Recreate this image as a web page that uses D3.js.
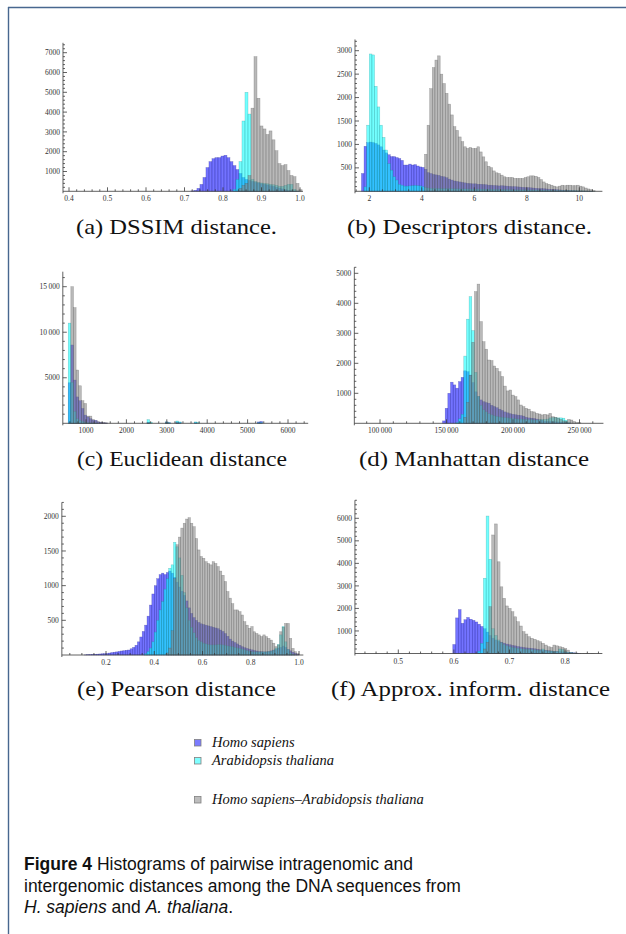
<!DOCTYPE html>
<html><head><meta charset="utf-8">
<script src="https://cdn.jsdelivr.net/npm/d3@7"></script>
<style>body{margin:0;background:#fff}svg{display:block}</style>
</head><body>
<svg id="chart" width="626" height="934"></svg>
<script>
// ---------------- DATA ----------------
// (a) DSSIM distance
const dssimBinStart = 0.7167, dssimBinWidth = 0.0078;
const dssimHomo  = [20,50,150,350,700,1200,1500,1650,1700,1700,1780,1820,1700,1500,1300,1100,900,700,600,550,500,450,420,380,350,320,280,250,200,160,120,80,50,30,15,5,0];
const dssimArab  = [0,0,0,0,0,0,0,0,0,0,0,0,0,0,100,600,1500,3550,5000,3900,600,500,450,420,400,380,350,330,300,250,250,300,350,350,100,20,0];
const dssimInter = [0,0,0,0,0,0,0,0,0,0,0,0,0,0,0,0,150,300,400,800,4200,6800,4700,3300,3150,2870,3050,2600,2050,1400,1300,1350,1050,800,740,400,80];
const dssimXTicks = [0.4,0.5,0.6,0.7,0.8,0.9,1.0];
const dssimYTicks = [1000,2000,3000,4000,5000,6000,7000];

// (b) Descriptors distance
const descBinStart = 1.7, descBinWidth = 0.1;
const descHomo = [380,960,1040,1050,1040,1020,990,950,880,820,
  780,740,740,720,700,660,560,560,580,560,
  570,540,520,510,470,400,380,360,350,340,
  320,310,290,260,240,220,210,200,190,180,
  170,165,160,160,150,150,145,140,130,130,
  125,120,115,120,115,110,105,100,100,95,
  90,85,80,80,75,70,65,60,60,55,
  50,45,42,40,35,30,25,20,20,15,
  12,10,8,6,5,4,3,2,0];
const descArab = [0,95,1410,2930,2910,2240,1800,1410,1150,880,
  590,450,310,240,150,130,110,110,115,120,
  125,120,115,100,80,70,65,60,60,58,
  57,56,55,55,54,53,52,51,50,50,
  48,47,46,45,45,44,43,42,41,40,
  39,38,37,36,35,34,33,32,31,30,
  30,30,30,29,29,28,28,27,26,25,
  24,23,22,21,20,19,18,17,16,15,
  14,13,12,11,10,8,6,4,2];
const descInter = [0,0,0,0,0,0,0,0,0,0,
  0,0,0,0,0,0,0,0,0,0,
  0,0,0,0,790,1410,2190,2640,2800,2890,
  2500,2300,2090,1860,1630,1380,1300,1160,1060,950,
  915,935,915,915,950,840,735,630,535,505,
  435,395,380,345,310,295,295,295,275,275,
  275,275,295,310,330,330,320,295,250,200,
  165,150,130,110,95,110,130,120,130,130,
  120,120,130,110,95,70,50,35,15];
const descXTicks = [2,4,6,8,10];
const descYTicks = [500,1000,1500,2000,2500,3000];

// (c) Euclidean distance
const euclidBinStart = 560, euclidBinWidth = 65;
const euclidHomo = [4450,8600,4750,2900,2480,1630,900,700,500,350,
  300,150,100,50,30,0,0,0,0,0,
  0,0,0,0,0,0,0,0,0,0,
  100,0,0,0,0,0,0,150,60,0,
  0,150,100,0,0,0,0,0,80,0,
  0,0,0,0,0,0,0,0,0,0,
  0,0,0,0,0,0,0,0,0,0,
  0,0,150,200,0];
const euclidArab = [11000,4500,1300,500,300,200,100,60,40,30,
  20,0,0,0,0,0,0,0,0,0,
  0,0,0,0,0,0,0,0,0,0,
  400,120,0,0,0,0,0,150,60,0,
  0,250,150,0,0,0,0,0,150,80,
  0,0,0,0,0,0,0,0,0,0,
  0,0,0,0,0,0,0,0,0,0,
  0,0,60,80,0];
const euclidInter = [0,15000,12700,5850,4120,2480,2180,790,790,410,
  280,170,130,80,50,0,0,0,0,0,
  0,0,0,0,0,0,0,0,0,0,
  60,0,0,0,0,0,0,100,0,0,
  0,80,0,0,0,0,0,0,0,0,
  0,0,0,0,0,0,0,0,0,0,
  0,0,0,0,0,0,0,0,0,0,
  0,0,0,0,0];
const euclidXTicks = [1000,2000,3000,4000,5000,6000];
const euclidYTicks = [5000,10000,15000];

// (d) Manhattan distance
const manhBinStart = 147000, manhBinWidth = 2000;
const manhHomo = [80,500,1000,1370,1280,1170,1390,1530,1750,1720,
  1610,1360,1050,890,780,720,690,670,600,560,
  520,470,430,380,350,320,300,285,270,260,
  240,200,180,170,160,140,115,100,70,65,
  60,55,50,45,40,30,20,10,0,0,
  0,0,0];
const manhArab = [0,0,0,0,0,30,150,300,2240,3470,
  4220,3090,1700,900,600,450,380,320,280,250,
  230,210,200,190,180,170,160,150,140,140,
  130,130,120,120,110,110,120,130,130,140,
  180,190,190,180,180,170,100,30,0,0,
  0,0,0];
const manhInter = [0,0,0,0,0,0,0,0,200,700,
  1600,2700,4390,4640,3390,2720,2470,2110,2090,1910,
  1830,1720,1560,1240,1080,1110,940,890,780,610,
  555,500,470,390,380,330,310,280,300,280,
  330,220,200,170,130,80,55,130,110,60,
  30,20,0];
const manhXTicks = [100000,150000,200000,250000];
const manhYTicks = [1000,2000,3000,4000,5000];

// (e) Pearson distance
const pearBinStart = 0.1, pearBinWidth = 0.01;
const pearHomo = [0,2,5,5,8,10,12,15,18,20,
  22,28,35,40,45,52,58,62,68,72,
  90,110,140,190,260,340,430,560,720,880,
  1000,1100,1160,1180,1160,1190,1210,1180,1120,1050,
  980,920,860,780,680,600,540,500,470,450,
  440,430,420,410,400,390,380,360,340,310,
  270,230,200,180,160,140,120,105,95,85,
  75,65,58,50,48,45,45,50,60,70,
  80,100,110,130,110,80,60,40,25,10];
const pearArab = [0,0,0,0,0,0,0,0,0,0,
  0,0,0,0,0,0,0,0,0,0,
  0,0,0,0,0,0,20,50,100,190,
  330,500,650,770,950,1100,1250,1300,1625,1560,
  1400,1150,900,680,500,400,320,250,210,190,
  170,160,150,145,145,145,150,150,145,140,
  130,125,120,110,100,95,85,75,65,55,
  48,45,45,45,45,45,45,50,55,70,
  100,150,290,410,190,80,30,10,0,0];
const pearInter = [0,0,0,0,0,0,0,0,0,0,
  0,0,0,0,0,0,0,0,0,0,
  0,0,0,0,0,0,0,0,0,0,
  0,0,0,0,0,30,100,350,1100,1590,
  1700,1830,1900,1960,1980,1900,1850,1680,1515,1420,
  1395,1345,1320,1300,1345,1320,1275,1210,1150,1060,
  915,820,740,650,650,625,577,480,430,385,
  410,335,310,290,265,290,265,240,215,170,
  120,145,335,400,455,455,240,95,48,20];
const pearXTicks = [0.2,0.4,0.6,0.8,1.0];
const pearYTicks = [500,1000,1500,2000];

// (f) Approx. inform. distance
const approxBinStart = 0.598, approxBinWidth = 0.005;
const approxHomo = [400,1580,1950,1340,1500,1600,1520,1470,1400,1300,
  1200,1100,950,800,680,600,540,500,460,420,
  390,360,340,310,290,270,250,240,230,210,
  190,170,155,140,125,110,100,90,80,70,
  60,50,40,30,20,10,0,0,0,0,
  0,0,0];
const approxArab = [0,0,0,0,0,0,0,0,0,100,
  450,3340,6100,4180,1100,800,600,480,400,340,
  300,270,250,230,210,200,190,180,170,160,
  150,140,200,130,110,110,100,90,200,180,
  80,60,40,20,10,0,0,0,0,0,
  0,0,0];
const approxInter = [0,0,0,0,0,0,0,0,0,0,
  0,200,500,2080,5260,5750,4070,2960,2450,2110,
  2000,1855,1630,1410,1220,970,865,745,675,630,
  570,525,450,375,300,270,375,340,300,270,
  225,150,40,15,10,5,5,3,3,2,
  2,0,0];
const approxXTicks = [0.5,0.6,0.7,0.8];
const approxYTicks = [1000,2000,3000,4000,5000,6000];

const seriesNames = ["Homo sapiens", "Arabidopsis thaliana", "Homo sapiens\u2013Arabidopsis thaliana"];
const captionTexts = ["(a) DSSIM distance.", "(b) Descriptors distance.", "(c) Euclidean distance",
                      "(d) Manhattan distance", "(e) Pearson distance", "(f) Approx. inform. distance"];

// ---------------- STYLE / LAYOUT ----------------
const seriesColors = ["#0000ff", "#00ffff", "#808080"];
const seriesEdges  = ["#20208a", "#208a8a", "#505050"];
const swatchColors = ["#7b7bff", "#80ffff", "#bdbdbd"];

const panels = [
  {series:[dssimHomo,dssimArab,dssimInter], start:dssimBinStart, bw:dssimBinWidth,
   xDom:[0.4,1.0], xRng:[69,300], xExt:[0.3844,1.0078], xTicks:dssimXTicks, xMinor:0.02, xDec:1,
   yDom:[0,7000], yRng:[191.3,52.7], yTop:7500, yTicks:dssimYTicks, yMinor:200,
   cap:0, capX:76, capY:234, capW:201},
  {series:[descHomo,descArab,descInter], start:descBinStart, bw:descBinWidth,
   xDom:[2,10], xRng:[369.3,579.3], xExt:[1.455,10.88], xTicks:descXTicks, xMinor:0.5, xDec:null,
   yDom:[0,3000], yRng:[191.3,50.7], yTop:3240, yTicks:descYTicks, yMinor:100,
   cap:1, capX:347, capY:234, capW:245},
  {series:[euclidHomo,euclidArab,euclidInter], start:euclidBinStart, bw:euclidBinWidth,
   xDom:[1000,6000], xRng:[86,288], xExt:[426,6500], xTicks:euclidXTicks, xMinor:200, xDec:null,
   yDom:[0,15000], yRng:[423.3,286.7], yTop:16650, yTicks:euclidYTicks, yMinor:1000,
   cap:2, capX:77, capY:466, capW:210},
  {series:[manhHomo,manhArab,manhInter], start:manhBinStart, bw:manhBinWidth,
   xDom:[100000,250000], xRng:[380,579.5], xExt:[80700,268000], xTicks:manhXTicks, xMinor:10000, xDec:null,
   yDom:[0,5000], yRng:[423.3,273.3], yTop:5200, yTicks:manhYTicks, yMinor:200,
   cap:3, capX:359, capY:466, capW:230},
  {series:[pearHomo,pearArab,pearInter], start:pearBinStart, bw:pearBinWidth,
   xDom:[0.2,1.0], xRng:[106,299], xExt:[0.017,1.018], xTicks:pearXTicks, xMinor:0.05, xDec:1,
   yDom:[0,2000], yRng:[655,516.3], yTop:2200, yTicks:pearYTicks, yMinor:100,
   cap:4, capX:77, capY:696, capW:199},
  {series:[approxHomo,approxArab,approxInter], start:approxBinStart, bw:approxBinWidth,
   xDom:[0.5,0.8], xRng:[398.3,565.1], xExt:[0.422,0.867], xTicks:approxXTicks, xMinor:0.02, xDec:1,
   yDom:[0,6000], yRng:[653.5,518.3], yTop:6800, yTicks:approxYTicks, yMinor:200,
   cap:5, capX:331, capY:696, capW:279}
];

function fmt(v, dec){
  if (dec != null) return v.toFixed(dec);
  let s = String(v);
  if (v >= 10000) s = s.replace(/\B(?=(\d{3})+(?!\d))/g, "\u2009");
  return s;
}
function minorTicks(ext, step){
  const out = [];
  const k0 = Math.ceil(ext[0]/step - 1e-9), k1 = Math.floor(ext[1]/step + 1e-9);
  for (let k = k0; k <= k1; k++) out.push(+(k*step).toFixed(8));
  return out;
}

const svg = d3.select("#chart");

// page frame
svg.append("line").attr("x1",8).attr("y1",7.5).attr("x2",626).attr("y2",7.5)
  .attr("stroke","#48678f").attr("stroke-width",1.4);
svg.append("line").attr("x1",8.5).attr("y1",7).attr("x2",8.5).attr("y2",934)
  .attr("stroke","#48678f").attr("stroke-width",1.4);

panels.forEach(p => {
  const xs = d3.scaleLinear().domain(p.xDom).range(p.xRng);
  const ys = d3.scaleLinear().domain(p.yDom).range(p.yRng);
  const g = svg.append("g");
  const y0 = ys(0);

  // bars
  p.series.forEach((vals, si) => {
    g.append("g").selectAll("rect")
      .data(vals.map((v,i)=>({v, x0:p.start + i*p.bw})).filter(d=>d.v>0))
      .join("rect")
      .attr("x", d => xs(d.x0))
      .attr("width", d => xs(d.x0 + p.bw) - xs(d.x0))
      .attr("y", d => ys(d.v))
      .attr("height", d => y0 - ys(d.v))
      .attr("fill", seriesColors[si]).attr("fill-opacity", 0.55)
      .attr("stroke", seriesEdges[si]).attr("stroke-opacity", 0.45).attr("stroke-width", 0.5);
  });

  const ax = g.append("g").attr("stroke","#3a3a3a").attr("stroke-width",0.8);
  const xL = xs(p.xExt[0]), xR = xs(p.xExt[1]);
  // axes
  ax.append("line").attr("x1",xL).attr("x2",xR).attr("y1",y0).attr("y2",y0);
  ax.append("line").attr("x1",xL).attr("x2",xL).attr("y1",y0+2).attr("y2",ys(p.yTop));
  // x ticks
  minorTicks(p.xExt, p.xMinor).forEach(t => {
    const maj = p.xTicks.some(m => Math.abs(m - t) < p.xMinor*1e-3);
    ax.append("line").attr("x1",xs(t)).attr("x2",xs(t)).attr("y1",y0).attr("y2",y0-(maj?4:2));
  });
  // y ticks
  minorTicks([0,p.yTop], p.yMinor).forEach(t => {
    if (t === 0) return;
    const maj = p.yTicks.includes(t);
    ax.append("line").attr("x1",xL).attr("x2",xL+(maj?4:2)).attr("y1",ys(t)).attr("y2",ys(t));
  });
  // labels
  const lab = g.append("g").attr("font-family","Liberation Serif, Times New Roman, serif")
    .attr("font-size",7.5).attr("fill","#333");
  p.xTicks.forEach(t => {
    lab.append("text").attr("x",xs(t)).attr("y",y0+10).attr("text-anchor","middle").text(fmt(t,p.xDec));
  });
  p.yTicks.forEach(t => {
    lab.append("text").attr("x",xL-3).attr("y",ys(t)+2.6).attr("text-anchor","end").text(fmt(t,null));
  });
  // caption
  g.append("text").attr("x",p.capX).attr("y",p.capY)
    .attr("font-family","Liberation Serif, Times New Roman, serif").attr("font-size",22)
    .attr("fill","#111").attr("textLength",p.capW).attr("lengthAdjust","spacingAndGlyphs")
    .text(captionTexts[p.cap]);
});

// legend
const legY = [739, 757, 796];
const leg = svg.append("g");
seriesNames.forEach((n,i) => {
  leg.append("rect").attr("x",194.5).attr("y",legY[i]+0.5).attr("width",6.5).attr("height",6.5)
    .attr("fill",swatchColors[i]).attr("stroke","#808080").attr("stroke-width",0.8);
  leg.append("text").attr("x",212).attr("y",legY[i]+8)
    .attr("font-family","Liberation Serif, Times New Roman, serif").attr("font-style","italic")
    .attr("font-size",14.5).attr("fill","#111").text(n);
});

// figure caption
const cap = svg.append("text").attr("font-family","Liberation Sans, Arial, sans-serif")
  .attr("font-size",17.5).attr("fill","#111");
const l1 = cap.append("tspan").attr("x",24).attr("y",870);
l1.append("tspan").attr("font-weight","bold").text("Figure 4");
l1.append("tspan").text(" Histograms of pairwise intragenomic and");
cap.append("tspan").attr("x",24).attr("y",891.5).text("intergenomic distances among the DNA sequences from");
const l3 = cap.append("tspan").attr("x",24).attr("y",912.5);
l3.append("tspan").attr("font-style","italic").text("H. sapiens");
l3.append("tspan").text(" and ");
l3.append("tspan").attr("font-style","italic").text("A. thaliana");
l3.append("tspan").text(".");
</script>
</body></html>
